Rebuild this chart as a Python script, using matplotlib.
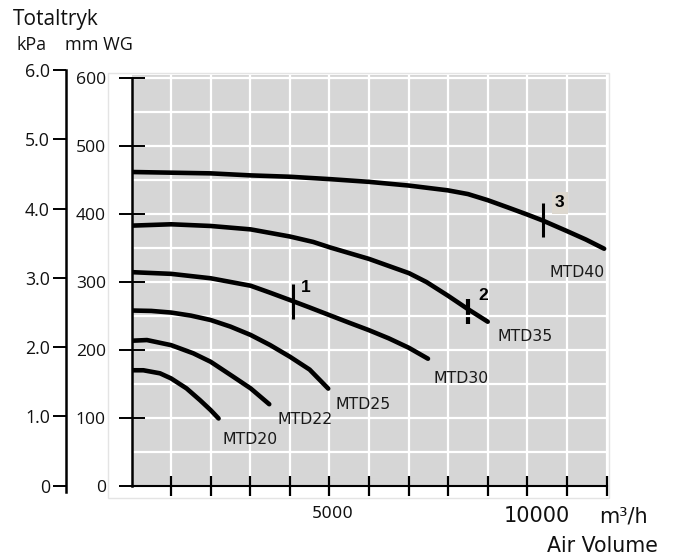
import numpy as np
import matplotlib.pyplot as plt
from matplotlib.patches import Rectangle

# 풍량 (m3/h) / 정압 (mm WG) - 그림에서 읽은 값
mtd20_x = [0, 300, 720, 1000, 1390, 1730, 2000, 2200]
mtd20_y = [170, 170, 165.5, 158, 143.3, 126, 111.3, 99]

mtd22_x = [0, 390, 1000, 1560, 2000, 2570, 3010, 3480]
mtd22_y = [213.5, 214.5, 207, 195, 182.5, 160.5, 143.3, 120]

mtd25_x = [0, 500, 1000, 1500, 2000, 2500, 3010, 3500, 4000, 4500, 4970]
mtd25_y = [258, 257.4, 255, 250.5, 244, 234.3, 222, 207.2, 190, 171, 143]

mtd30_x = [0, 1000, 2000, 3010, 3500, 4000, 4500, 5010, 5500, 6000, 6500, 7010, 7490]
mtd30_y = [314.5, 312, 305.5, 294.5, 284.3, 273.5, 262.5, 251, 240, 229, 217, 203, 187]

mtd35_x = [0, 500, 1000, 2000, 3010, 4000, 4590, 5010, 6000, 7010, 7450, 7990, 8500, 9000]
mtd35_y = [383, 384, 385, 382.5, 377.5, 367, 359, 351, 334, 313, 300, 280, 260, 241.5]

mtd40_x = [0, 1000, 2000, 3010, 4000, 5010, 6000, 7010, 7990, 8500, 9000, 9500,
           9990, 10390, 11000, 11480, 11940]
mtd40_y = [462, 461, 460, 457, 455, 451.5, 447.5, 442, 435, 429.5, 420.5, 410,
           399.5, 390.5, 375, 362.5, 349]

curves = [(mtd20_x, mtd20_y), (mtd22_x, mtd22_y), (mtd25_x, mtd25_y),
          (mtd30_x, mtd30_y), (mtd35_x, mtd35_y), (mtd40_x, mtd40_y)]

# 곡선 이름표
names = ["MTD20", "MTD22", "MTD25", "MTD30", "MTD35", "MTD40"]
name_x = [2990, 4390, 5850, 8330, 9950, 11250]
name_y = [68, 97, 120, 158, 219, 314]

# 운전점 1, 2, 3 (아래/위 끝)
op_names = ["1", "2", "3"]
op_x = [4084, 8500, 10390]
op_lo = [245, 237.6, 367]
op_hi = [297, 274.8, 416]
op_label_x = [4390, 8890, 10820]
op_label_y = [292, 280, 417]

# 축 눈금
mm_ticks = [0, 100, 200, 300, 400, 500, 600]
mm_labels = ["0", "100", "200", "300", "400", "500", "600"]
kpa_ticks = [0, 1, 2, 3, 4, 5, 6]
kpa_labels = ["0", "1.0", "2.0", "3.0", "4.0", "5.0", "6.0"]
x_ticks = [1000, 2000, 3000, 4000, 5000, 6000, 7000, 8000, 9000, 10000, 11000, 12000]
x_label_vals = [5000, 10000]
x_label_txt = ["5000", "10000"]

W, H = 673, 554
fig = plt.figure(figsize=(W / 100, H / 100), dpi=100)

def box(l, t, r, b):
    return [l / W, 1 - b / H, (r - l) / W, (b - t) / H]

# 바깥쪽 옅은 테두리
fig.patches.append(Rectangle((108 / W, 1 - 498 / H), (609 - 108) / W, (498 - 73) / H,
                             transform=fig.transFigure, facecolor='white',
                             edgecolor='#e4e4e4', lw=1, zorder=-5))

ax = fig.add_axes(box(131.5, 74.9, 606.5, 485.7))
ax.set_facecolor('#d6d6d6')
ax.set_xlim(0, 12000)
ax.set_ylim(0, 605)

# 흰색 격자
for gx in x_ticks:
    ax.axvline(gx, color='white', lw=1.6, zorder=1)
for gy in np.arange(50, 601, 50):
    ax.axhline(gy, color='white', lw=1.6, zorder=1)

for s in ['top', 'right']:
    ax.spines[s].set_visible(False)
ax.spines['left'].set_bounds(0, 600)
ax.spines['left'].set_linewidth(1.8)
ax.spines['bottom'].set_linewidth(1.5)
ax.spines['left'].set_zorder(5)
ax.spines['bottom'].set_zorder(5)

ax.set_yticks(mm_ticks)
ax.set_yticklabels(mm_labels, family='Open Sans', fontsize=12.6, color='#111111')
ax.tick_params(axis='y', direction='inout', length=19, width=1.4, pad=9)
ax.set_xticks(x_ticks)
ax.set_xticklabels([])
ax.tick_params(axis='x', direction='inout', length=14, width=1.6)

for cx, cy in curves:
    ax.plot(cx, cy, color='black', lw=3.3, solid_capstyle='round',
            solid_joinstyle='round', zorder=3)

for n, nx, ny in zip(names, name_x, name_y):
    ax.text(nx, ny, n, fontsize=11.3, color='#1a1a1a', ha='center', va='center', zorder=4)

# 운전점 표시 (2번은 격자선 아래)
for t, px, lo, hi in zip(op_names, op_x, op_lo, op_hi):
    if t == "2":
        ax.plot([px, px], [lo, hi], color='black', lw=3.0, solid_capstyle='butt', zorder=0.8)
    else:
        ax.plot([px, px], [lo, hi], color='black', lw=2.2, solid_capstyle='butt', zorder=4)
for t, lx, ly in zip(op_names, op_label_x, op_label_y):
    kw = {}
    if t == "3":
        kw['bbox'] = dict(boxstyle='square,pad=0.2', facecolor='#ddd8cf', edgecolor='none')
    ax.text(lx, ly, t, family='Liberation Sans', fontweight='bold', fontsize=12.5,
            ha='center', va='center', zorder=4, **kw)

# x 눈금 글자
ax.annotate(x_label_txt[0], xy=(x_label_vals[0], 0), xycoords=('data', 'axes fraction'),
            xytext=(2.2, -20), textcoords='offset points', ha='center', va='center',
            fontsize=11.8, color='#111111')
ax.annotate(x_label_txt[1], xy=(x_label_vals[1], 0), xycoords=('data', 'axes fraction'),
            xytext=(6.5, -21.8), textcoords='offset points', ha='center', va='center',
            fontsize=15, color='#111111')
fig.text(623 / W, 1 - 516 / H, "m³/h", fontsize=15, ha='center', va='center', color='#111111')
fig.text(658 / W, 1 - 551.5 / H, "Air Volume", fontsize=14.8, ha='right', va='baseline',
         color='#111111')

# kPa 축
ax2 = fig.add_axes(box(65.7, 70, 70, 492))
ax2.set_ylim(-6.3 / 69.28, 6.0)
ax2.patch.set_visible(False)
for s in ['top', 'right', 'bottom']:
    ax2.spines[s].set_visible(False)
ax2.spines['left'].set_linewidth(1.8)
ax2.set_xticks([])
ax2.set_yticks(kpa_ticks)
ax2.set_yticklabels(kpa_labels, family='Open Sans', fontsize=12.8, color='#111111')
ax2.tick_params(axis='y', direction='out', length=9.4, width=1.4, pad=2)

fig.text(13 / W, 1 - 25 / H, "Totaltryk", family='Open Sans', fontsize=15, va='baseline',
         color='#111111')
fig.text(16.7 / W, 1 - 50 / H, "kPa", family='Open Sans', fontsize=13, va='baseline',
         color='#111111')
fig.text(65 / W, 1 - 50 / H, "mm WG", family='Open Sans', fontsize=13, va='baseline',
         color='#111111')

fig.savefig('out.png', dpi=100)
